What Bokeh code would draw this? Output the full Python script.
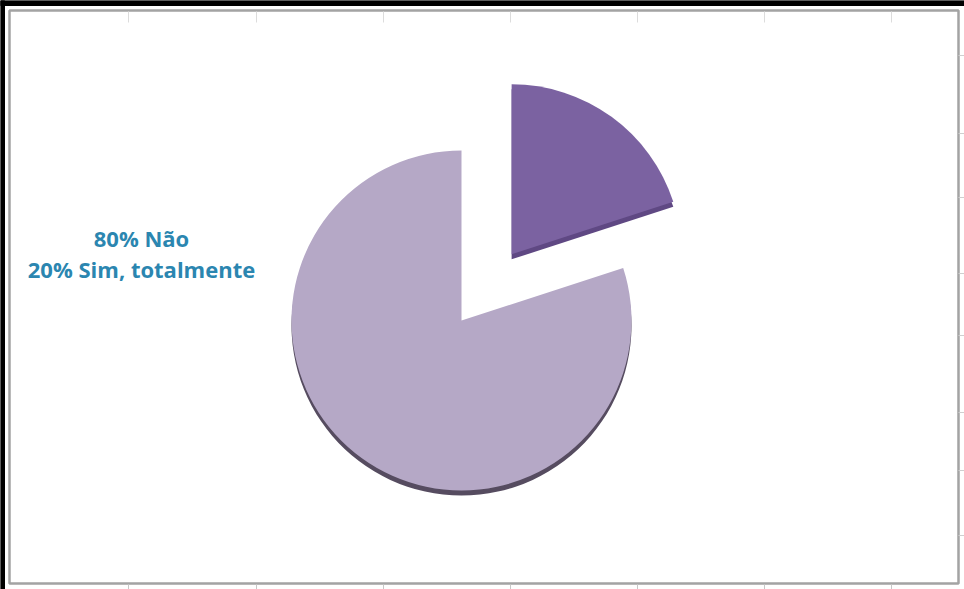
import math
from bokeh.plotting import figure
from bokeh.models import Range1d
from bokeh.core.properties import value
from bokeh.embed import file_html
from bokeh.resources import INLINE

# ---- data ----
categories = ["Não", "Sim, totalmente"]
percent = [80, 20]
labels = ["80% Não", "20% Sim, totalmente"]
face_colors = ["#b5a8c6", "#7b62a1"]
side_colors = ["#564c60", "#5f4883"]

W, H = 964, 589
p = figure(width=W, height=H, output_backend="svg", toolbar_location=None,
           x_range=Range1d(0, W), y_range=Range1d(0, H), min_border=0)
p.axis.visible = False
p.grid.visible = False
p.outline_line_color = None
p.background_fill_color = "white"
p.border_fill_color = "white"

def Y(y):
    return H - y

# outer black border (top/left) and grey chart frame
p.quad(left=0, right=W, top=Y(0), bottom=Y(5), color="black")
p.quad(left=0, right=4, top=Y(0), bottom=Y(H), color="black")
p.quad(left=9, right=958, top=Y(10), bottom=Y(583), fill_color=None,
       line_color="#a3a3a3", line_width=2.5)

# faint spreadsheet cell ticks
col_x = [128, 256, 383, 510, 637, 764, 891]
p.segment(x0=col_x, y0=[Y(11)] * 7, x1=col_x, y1=[Y(22)] * 7, line_color="#dcdcdc", line_width=1)
p.segment(x0=col_x, y0=[Y(584)] * 7, x1=col_x, y1=[Y(589)] * 7, line_color="#c8c8c8", line_width=1)
row_y = [55, 133, 197, 273, 335, 412, 470, 535]
p.segment(x0=[958] * 8, y0=[Y(v) for v in row_y], x1=[964] * 8, y1=[Y(v) for v in row_y],
          line_color="#cfcfcf", line_width=1)

# ---- pie ----
cx, cy, r = 461, Y(320), 170
depth = 5
explode = 83
total = sum(percent)
start = math.pi / 2
angles = []
for v in percent:
    a = v / total * 2 * math.pi
    angles.append((start, start + a))
    start += a

for i, (a0, a1) in enumerate(angles):
    ox, oy = 0.0, 0.0
    s0, s1 = a0, a1
    if i == 1:
        mid = (a0 + a1) / 2 - 0.02
        ox, oy = explode * math.cos(mid), explode * math.sin(mid)
    else:
        s0, s1 = math.pi * 0.95, math.pi * 2.05
    # 3D side (darker, shifted down)
    p.wedge(x=cx + ox, y=cy + oy - depth, radius=r, start_angle=s0, end_angle=s1,
            fill_color=side_colors[i], line_color=None)
    p.wedge(x=cx + ox, y=cy + oy, radius=r, start_angle=a0, end_angle=a1,
            fill_color=face_colors[i], line_color=None)

# ---- label ----
p.text(x=[141, 141], y=[Y(237), Y(268)], text=labels,
       text_font=value("Open Sans"), text_font_style="bold", text_font_size="22px",
       text_color="#2b86b0", text_align="center", text_baseline="middle")

open("out.html", "w").write(file_html(p, INLINE))
